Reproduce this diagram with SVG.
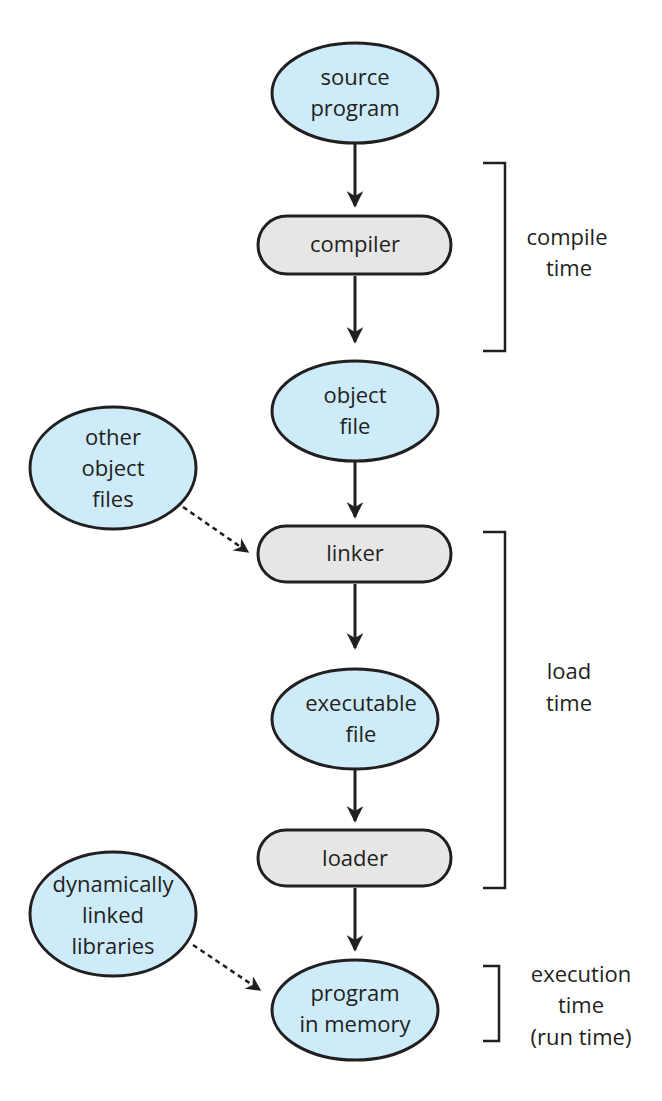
<svg xmlns="http://www.w3.org/2000/svg" width="662" height="1101" viewBox="0 0 662 1101">
<style>
.e{fill:#cdebf9;stroke:#231f20;stroke-width:3}
.r{fill:#e6e6e6;stroke:#231f20;stroke-width:3}
text{font-family:"Open Sans","Liberation Sans",sans-serif;font-size:22px;fill:#231f20;text-anchor:middle}
.c line{stroke:#231f20;stroke-width:3}
.c .d{stroke-dasharray:5 4;stroke-width:2.5}
.b{fill:none;stroke:#231f20;stroke-width:2.5}
</style>
<defs>
<marker id="a" viewBox="0 0 10 10" refX="9" refY="5" markerWidth="5.5" markerHeight="5.5" orient="auto" markerUnits="strokeWidth"><path d="M0,0L10,5L0,10L3,5z" fill="#231f20"/></marker>
<marker id="ad" viewBox="0 0 10 10" refX="9" refY="5" markerWidth="6" markerHeight="6" orient="auto" markerUnits="strokeWidth"><path d="M0,0L10,5L0,10L3,5z" fill="#231f20"/></marker>
</defs>
<g class="c">
<line x1="355" y1="144" x2="355" y2="206" marker-end="url(#a)"/>
<line x1="355" y1="276" x2="355" y2="342" marker-end="url(#a)"/>
<line x1="355" y1="462" x2="355" y2="517" marker-end="url(#a)"/>
<line x1="355" y1="584" x2="355" y2="648" marker-end="url(#a)"/>
<line x1="355" y1="770" x2="355" y2="821" marker-end="url(#a)"/>
<line x1="355" y1="888" x2="355" y2="950" marker-end="url(#a)"/>
<line class="d" x1="183" y1="507" x2="248" y2="552" marker-end="url(#ad)"/>
<line class="d" x1="193" y1="945" x2="260" y2="990" marker-end="url(#ad)"/>
</g>
<g id="source"><ellipse class="e" cx="355" cy="93" rx="83" ry="50"/><text x="355" y="85">source</text><text x="355" y="116">program</text></g>
<g id="compiler"><rect class="r" x="258" y="216" width="193" height="58" rx="29"/><text x="355" y="252">compiler</text></g>
<g id="object"><ellipse class="e" cx="355" cy="411" rx="83" ry="50"/><text x="355" y="403">object</text><text x="355" y="434">file</text></g>
<g id="other"><ellipse class="e" cx="113" cy="468" rx="83" ry="61"/><text x="113" y="445">other</text><text x="113" y="476">object</text><text x="113" y="507">files</text></g>
<g id="linker"><rect class="r" x="258" y="526" width="193" height="56" rx="28"/><text x="355" y="561">linker</text></g>
<g id="exec"><ellipse class="e" cx="355" cy="719" rx="83" ry="50"/><text x="361" y="711">executable</text><text x="361" y="742">file</text></g>
<g id="loader"><rect class="r" x="258" y="830" width="193" height="56" rx="28"/><text x="355" y="866">loader</text></g>
<g id="dll"><ellipse class="e" cx="113" cy="914" rx="83" ry="62"/><text x="113" y="892">dynamically</text><text x="113" y="923">linked</text><text x="113" y="954">libraries</text></g>
<g id="mem"><ellipse class="e" cx="355" cy="1010" rx="83" ry="50"/><text x="355" y="1001">program</text><text x="355" y="1032">in memory</text></g>
<g id="brackets">
<path class="b" d="M483,163H505V351H483"/>
<path class="b" d="M483,532H505V888H483"/>
<path class="b" d="M483,966H499V1041H483"/>
<text x="567" y="245">compile</text><text x="569" y="276">time</text>
<text x="569" y="679">load</text><text x="569" y="711">time</text>
<text x="581" y="982">execution</text><text x="581" y="1013">time</text><text x="581" y="1045">(run time)</text>
</g>
</svg>
